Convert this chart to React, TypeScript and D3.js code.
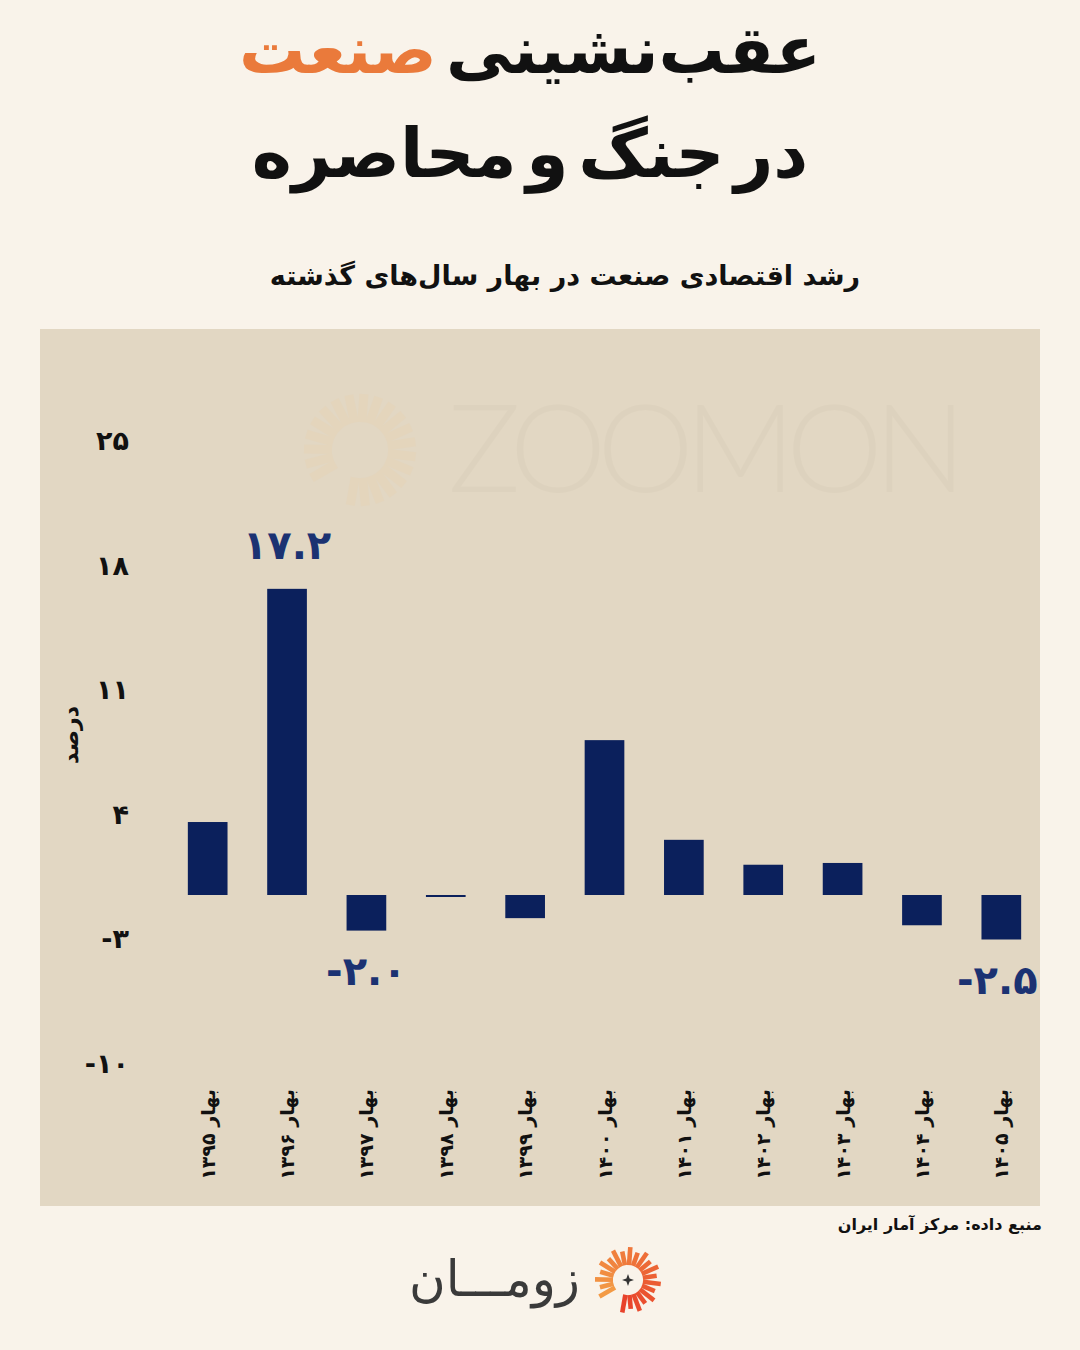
import React from "react";
import * as d3 from "d3";

const categories = ["بهار ۱۳۹۵", "بهار ۱۳۹۶", "بهار ۱۳۹۷", "بهار ۱۳۹۸", "بهار ۱۳۹۹", "بهار ۱۴۰۰", "بهار ۱۴۰۱", "بهار ۱۴۰۲", "بهار ۱۴۰۳", "بهار ۱۴۰۴", "بهار ۱۴۰۵"];
const values = [4.1, 17.2, -2.0, -0.1, -1.3, 8.7, 3.1, 1.7, 1.8, -1.7, -2.5];
const labelledIdx = [1, 2, 10];
const yTicks = [25, 18, 11, 4, -3, -10];

const W = 1080;
const H = 1350;
const NAVY = "#0b205c";
const LABEL_NAVY = "#1b3272";
const ORANGE = "#ea7a3b";
const FONT = "'DejaVu Sans', sans-serif";

const toFa = (s: string) => s.replace(/[0-9]/g, (d) => "۰۱۲۳۴۵۶۷۸۹"[+d]);
const fmt = (v: number) => (v < 0 ? "-" : "") + toFa(Math.abs(v).toFixed(1));

export default function App() {
  const x = d3.scaleBand<string>().domain(categories).range([168, 1041]).paddingInner(0.5).paddingOuter(0.25);
  const y = d3.scaleLinear().domain([-10, 25]).range([1073, 450]);
  const bw = x.bandwidth();

  const cx = 628, cy = 1280;
  const rayAngles: number[] = [];
  for (let a = -120; a <= 190; a += 15.5) rayAngles.push(a);
  const rayColor = d3.scaleLinear<string>().domain([-120, 190]).range(["#f39a45", "#e8422b"]);

  return (
    <svg width={W} height={H} style={{ display: "block", position: "absolute", left: 0, top: 0 }} xmlns="http://www.w3.org/2000/svg">
      <rect x={0} y={0} width={W} height={H} fill="#f9f3ea" />
      {/* Title */}
      <text x={530} y={73} direction="rtl" textAnchor="middle" fontFamily={FONT} fontWeight={700} fontSize={66} fill="#111">
        <tspan>عقب‌نشینی</tspan>
        <tspan fill={ORANGE} dx={14}> صنعت</tspan>
      </text>
      <text x={530} y={177} direction="rtl" textAnchor="middle" fontFamily={FONT} fontWeight={700} fontSize={68} wordSpacing={-14} fill="#111">
        در جنگ و محاصره
      </text>
      <text x={565} y={285} direction="rtl" textAnchor="middle" fontFamily={FONT} fontWeight={700} fontSize={27} fill="#111">
        رشد اقتصادی صنعت در بهار سال‌های گذشته
      </text>

      {/* Panel */}
      <rect x={40} y={329} width={1000} height={877} fill="#e2d7c3" />
      {/* Watermark */}
      <text x={448} y={492} textLength={518} lengthAdjust="spacing" fontFamily="Lato, 'Open Sans', sans-serif" fontWeight={300} fontSize={122} fill="#d8cdb8" opacity={0.4}>
        ZOOMON
      </text>
      <g opacity={0.12}>
        {rayAngles.map((a, i) => {
          const r = (a * Math.PI) / 180;
          const c = 360, m = 450;
          return (
            <line key={i} x1={c + Math.sin(r) * 28} y1={m - Math.cos(r) * 28} x2={c + Math.sin(r) * 56} y2={m - Math.cos(r) * 56} stroke="#f2c890" strokeWidth={9} />
          );
        })}
      </g>

      {/* Y axis */}
      {yTicks.map((t) => (
        <text key={t} x={129} y={y(t)} textAnchor="end" fontFamily={FONT} fontWeight={700} fontSize={27} fill="#111" direction="ltr">
          {(t < 0 ? "-" : "") + toFa(String(Math.abs(t)))}
        </text>
      ))}
      <text transform={`translate(78,735) rotate(-90)`} textAnchor="middle" direction="rtl" fontFamily={FONT} fontWeight={700} fontSize={22} fill="#111">
        درصد
      </text>

      {/* Bars */}
      {values.map((v, i) => {
        const c = categories[i];
        const y0 = y(0), y1 = y(v);
        return <rect key={c} x={x(c)} y={Math.min(y0, y1)} width={bw} height={Math.max(Math.abs(y1 - y0), 2)} fill={NAVY} />;
      })}

      {/* Value labels */}
      {labelledIdx.map((i) => {
        const v = values[i];
        const cxl = (x(categories[i]) as number) + bw / 2 - (i === 10 ? 4 : 0);
        const yy = v >= 0 ? y(v) - 30 : y(v) + 54;
        return (
          <text key={i} x={cxl} y={yy} textAnchor="middle" direction="ltr" fontFamily={FONT} fontWeight={700} fontSize={40} fill={LABEL_NAVY}>
            {fmt(v)}
          </text>
        );
      })}

      {/* X labels */}
      {categories.map((c) => (
        <text key={c} transform={`translate(${(x(c) as number) + bw / 2 + 7},1089) rotate(-90)`} direction="rtl" textAnchor="start" fontFamily={FONT} fontWeight={700} fontSize={19} fill="#111">
          {c}
        </text>
      ))}

      {/* Source */}
      <text x={1042} y={1230} direction="rtl" textAnchor="start" fontFamily={FONT} fontWeight={700} fontSize={16} fill="#111">
        منبع داده: مرکز آمار ایران
      </text>

      {/* Logo */}
      <g>
        {rayAngles.map((a, i) => {
          const r = (a * Math.PI) / 180;
          const len = i % 2 === 0 ? 33 : 29;
          return (
            <line key={i} x1={cx + Math.sin(r) * 15} y1={cy - Math.cos(r) * 15} x2={cx + Math.sin(r) * len} y2={cy - Math.cos(r) * len} stroke={rayColor(a)} strokeWidth={4.6} />
          );
        })}
        <path d={`M${cx},${cy - 6} L${cx + 1.6},${cy - 1.6} L${cx + 6},${cy} L${cx + 1.6},${cy + 1.6} L${cx},${cy + 6} L${cx - 1.6},${cy + 1.6} L${cx - 6},${cy} L${cx - 1.6},${cy - 1.6} Z`} fill="#333" />
      </g>
      <text x={580} y={1296} direction="rtl" textAnchor="start" fontFamily={FONT} fontWeight={400} fontSize={50} fill="#3a3a3a">
        زومـــان
      </text>
    </svg>
  );
}
